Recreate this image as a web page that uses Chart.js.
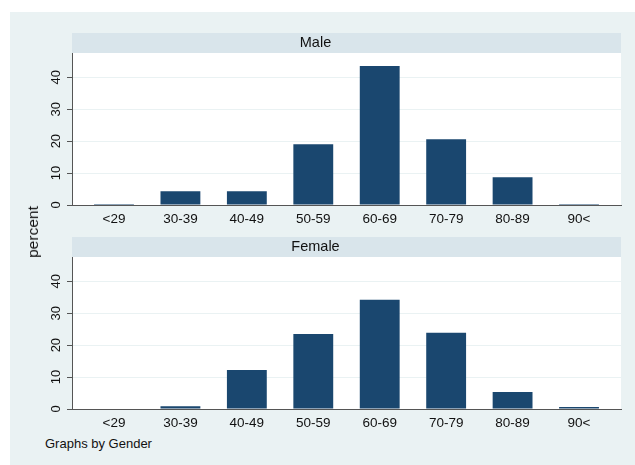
<!DOCTYPE html>
<html>
<head>
<meta charset="utf-8">
<script src="https://cdn.jsdelivr.net/npm/chart.js@4/dist/chart.umd.min.js"></script>
<style>
  html, body { margin: 0; padding: 0; background: #fff; }
  body { width: 635px; height: 465px; position: relative; overflow: hidden;
         font-family: "Liberation Sans", Arial, sans-serif; }
  #panel { position: absolute; left: 10px; top: 12px; width: 625px; height: 453px; background: #eaf2f3; }
  canvas { position: absolute; left: 10px; }
  #c1 { top: 12px; }
  #c2 { top: 232px; }
  #ytitle { position: absolute; left: 33px; top: 232px; transform: translate(-50%, -50%) rotate(-90deg);
            font-size: 15.5px; color: #111; white-space: nowrap; }
  #note { position: absolute; left: 45px; top: 436px; font-size: 13px; color: #111; }
</style>
</head>
<body>
<div id="panel"></div>
<canvas id="c1" width="625" height="220"></canvas>
<canvas id="c2" width="625" height="204"></canvas>
<div id="ytitle">percent</div>
<div id="note">Graphs by Gender</div>
<script>
  // age groups and percent per group
  const ageGroups = ['<29', '30-39', '40-49', '50-59', '60-69', '70-79', '80-89', '90<'];
  const malePct = [0.3, 4.3, 4.3, 19.0, 43.5, 20.6, 8.7, 0.3];
  const femalePct = [0, 0.9, 12.2, 23.5, 34.2, 23.9, 5.3, 0.6];
  const yTicks = [0, 10, 20, 30, 40];
  const yMax = 47.6;

  const FONT = '"Liberation Sans", Arial, sans-serif';
  const NAVY = '#1a476f';
  const AXIS = '#555';

  // header strip (by-group label box) and white plot region
  const stripPlugin = {
    id: 'strip',
    beforeDraw(chart) {
      const a = chart.chartArea;
      const ctx = chart.ctx;
      ctx.save();
      ctx.fillStyle = '#d9e5eb';
      ctx.fillRect(a.left, a.top - 20, a.right - a.left, 20);
      ctx.fillStyle = '#fff';
      ctx.fillRect(a.left, a.top, a.right - a.left, a.bottom - a.top);
      ctx.restore();
    }
  };

  function panel(canvasId, title, values, titleTop) {
    const ctx = document.getElementById(canvasId).getContext('2d');
    return new Chart(ctx, {
      type: 'bar',
      data: {
        datasets: [{
          data: values.map(function (v, i) { return { x: i, y: v }; }),
          backgroundColor: NAVY,
          borderWidth: 0,
          barPercentage: 0.6,
          categoryPercentage: 1
        }]
      },
      options: {
        responsive: false,
        animation: false,
        layout: { padding: { left: 0, right: 14, top: 0, bottom: 0 } },
        scales: {
          x: {
            type: 'linear',
            min: -0.632,
            max: ageGroups.length - 1 + 0.632,
            offset: false,
            afterBuildTicks: function (s) { s.ticks = ageGroups.map(function (_, i) { return { value: i }; }); },
            afterFit: function (s) { s.height = 27; },
            grid: { display: false, drawTicks: false, offset: false },
            border: { display: true, color: AXIS, width: 1 },
            ticks: {
              padding: 6,
              autoSkip: false,
              maxRotation: 0,
              color: '#111',
              font: { family: FONT, size: 13.5 },
              callback: function (v) { return ageGroups[v]; }
            }
          },
          y: {
            min: 0,
            max: yMax,
            afterBuildTicks: function (s) { s.ticks = yTicks.map(function (v) { return { value: v }; }); },
            afterFit: function (s) { s.width = 62; },
            grid: { color: '#eaf2f3', lineWidth: 1, tickColor: AXIS, tickLength: 5 },
            border: { display: true, color: AXIS, width: 1 },
            ticks: {
              padding: 3,
              minRotation: 90,
              maxRotation: 90,
              crossAlign: 'center',
              color: '#111',
              font: { family: FONT, size: 13 }
            }
          }
        },
        plugins: {
          legend: { display: false },
          tooltip: { enabled: false },
          title: {
            display: true,
            text: title,
            color: '#111',
            font: { family: FONT, size: 14.5, weight: 'normal', lineHeight: 1.2 },
            padding: { top: titleTop, bottom: 1.3 }
          }
        }
      },
      plugins: [stripPlugin]
    });
  }

  panel('c1', 'Male', malePct, 22.3);
  panel('c2', 'Female', femalePct, 6.3);
</script>
</body>
</html>
